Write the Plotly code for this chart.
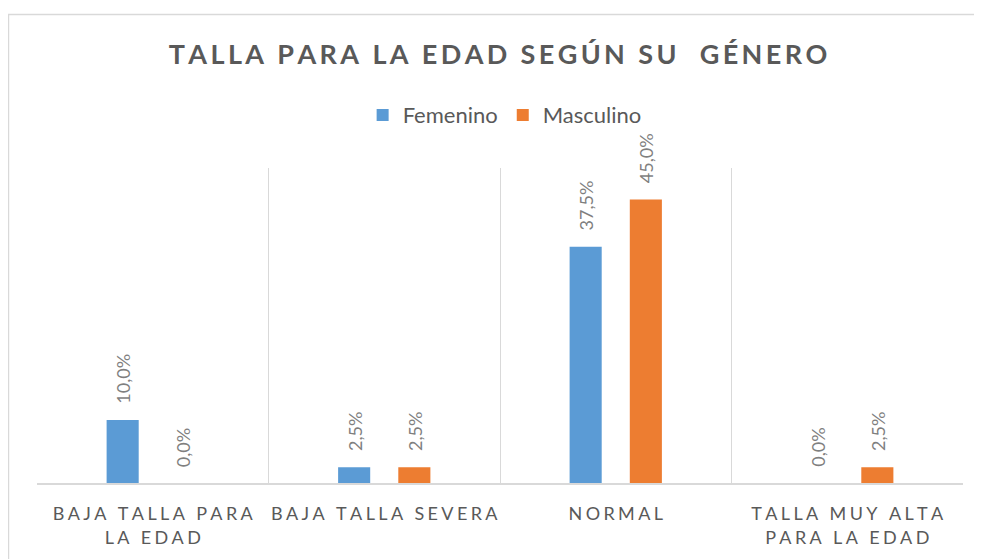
import plotly.graph_objects as go

categories = ["BAJA TALLA PARA<br>LA EDAD", "BAJA TALLA SEVERA", "NORMAL", "TALLA MUY ALTA<br>PARA LA EDAD"]
femenino = [10.0, 2.5, 37.5, 0.0]
masculino = [0.0, 2.5, 45.0, 2.5]
series_names = ["Femenino", "Masculino"]
title_text = "TALLA PARA LA EDAD SEGÚN SU  GÉNERO"


def spaced(s, sep):
    parts = s.split("<br>")
    return "<br>".join(sep.join(list(p)) for p in parts)


def fmt(v):
    return f"{v:.1f}".replace(".", ",") + "%"


cat_labels = [spaced(c, "\u2009\u200a") for c in categories]

FONT = "Lato"
fig = go.Figure()
series = [(series_names[0], femenino, "#5B9BD5", -30), (series_names[1], masculino, "#ED7D31", 30)]
for name, vals, color, _ in series:
    fig.add_trace(go.Bar(
        name=name, x=cat_labels, y=vals, marker_color=color, marker_line_width=0,
    ))

# data labels, rotated, placed above each bar
for name, vals, color, dx in series:
    for c, v in zip(cat_labels, vals):
        fig.add_annotation(x=c, y=v, xref="x", yref="y", text=fmt(v), showarrow=False,
                           textangle=-90, xanchor="center", yanchor="bottom", xshift=dx, yshift=14,
                           font=dict(family=FONT, size=18, color="#7F7F7F"))

fig.update_layout(
    width=982, height=559,
    margin=dict(l=29, r=27, t=160, b=84, autoexpand=False),
    paper_bgcolor="white", plot_bgcolor="white",
    barmode="group", bargap=0.48, bargroupgap=0.467,
    title=dict(text="<b>" + spaced(title_text, "\u2009") + "</b>", x=0.499, xanchor="center", y=1 - 47 / 559, yanchor="middle",
               font=dict(family=FONT, size=27, color="#595959")),
    legend=dict(orientation="h", x=0.505, xanchor="center", y=1.168, yanchor="middle", itemwidth=30,
                font=dict(family=FONT, size=22, color="#595959"), itemclick=False, bgcolor="rgba(0,0,0,0)"),
    xaxis=dict(tickson="boundaries", showgrid=True, gridcolor="#D9D9D9", gridwidth=1,
               showline=True, linecolor="#D9D9D9", linewidth=1.5, ticks="",
               ticklabelstandoff=14, tickangle=0, automargin=False,
               tickfont=dict(family=FONT, size=18, color="#595959")),
    yaxis=dict(range=[0, 50], visible=False, showgrid=False, automargin=False),
    shapes=[dict(type="rect", xref="paper", yref="paper", x0=-0.0308, x1=1.2, y0=-0.5, y1=1.487,
                 line=dict(color="#D9D9D9", width=1.5), fillcolor="rgba(0,0,0,0)", layer="below")],
)

fig.write_html("out.html")
